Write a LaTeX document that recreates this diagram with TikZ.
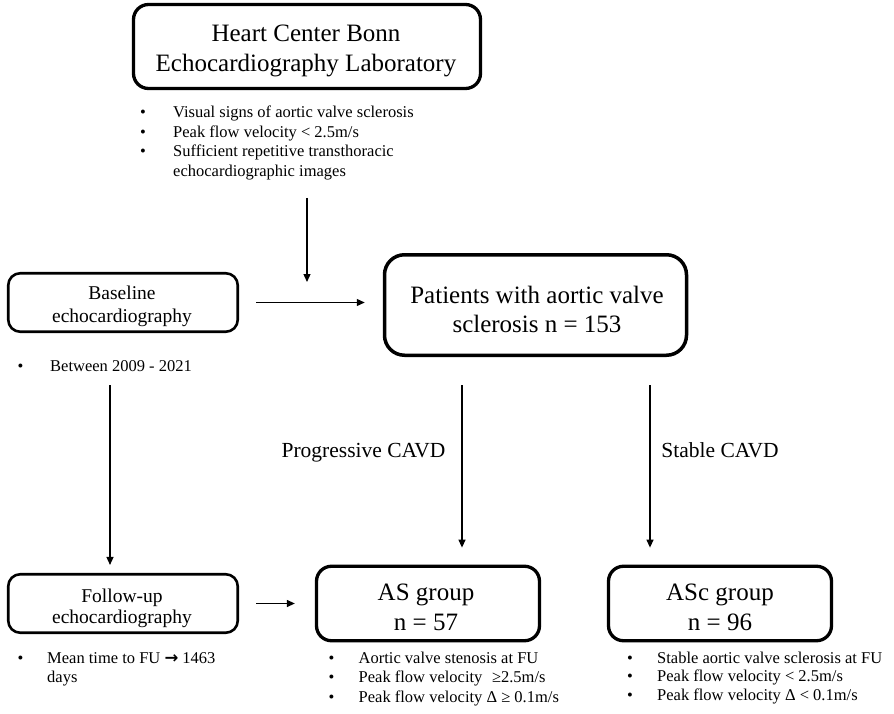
\documentclass[tikz,border=0pt]{standalone}
\usepackage{fontspec}
\setmainfont{Liberation Serif}
\newfontfamily\symfont{DejaVu Sans}
\usetikzlibrary{arrows.meta}
\tikzset{
  boxthick/.style={draw, rounded corners=15pt, line width=3.3pt, inner sep=0pt},
  boxthin/.style={draw, rounded corners=12pt, line width=2.6pt, inner sep=0pt},
  bigtxt/.style={font=\fontsize{25}{30}\selectfont, inner sep=0pt, anchor=base},
  midtxt/.style={font=\fontsize{19.5}{23}\selectfont, inner sep=0pt, anchor=base},
  lbltxt/.style={font=\fontsize{21.5}{26}\selectfont, inner sep=0pt, anchor=base},
  bultxt/.style={font=\fontsize{16.5}{19.5}\selectfont, inner sep=0pt, anchor=base west},
  buldot/.style={font=\fontsize{16.5}{19.5}\selectfont, inner sep=0pt, anchor=base},
  arr/.style={-{Triangle[length=8pt,width=7pt]}, line width=1.3pt},
}
\newcommand\bitem[5]{%
  \node[buldot] (#1b) at (#2,#4) {•};
  \node[bultxt] (#1) at (#3,#4) {#5};}
\begin{document}
\begin{tikzpicture}[x=1pt,y=-1pt]
\useasboundingbox (0,0) rectangle (894,714);

% boxes
\node[boxthick, minimum width=347pt, minimum height=84pt] (top) at (307,46.5) {};
\node[boxthin, minimum width=229.5pt, minimum height=58.5pt] (base) at (123,302.5) {};
\node[boxthick, rounded corners=20pt, line width=3.5pt, minimum width=302pt, minimum height=100.5pt] (pat) at (535.5,305) {};
\node[boxthin, minimum width=229.5pt, minimum height=58.5pt] (fu) at (123,603.5) {};
\node[boxthick, minimum width=223pt, minimum height=74.5pt] (as) at (428,603.5) {};
\node[boxthick, minimum width=223pt, minimum height=74.5pt] (asc) at (720,603.5) {};

% box texts
\node[bigtxt] (topt1) at (306,42) {Heart Center Bonn};
\node[bigtxt] (topt2) at (306,72) {Echocardiography Laboratory};
\node[bigtxt] (patt1) at (537,303) {Patients with aortic valve};
\node[bigtxt] (patt2) at (537,332) {sclerosis n = 153};
\node[midtxt] (baset1) at (122,299) {Baseline};
\node[midtxt] (baset2) at (122,322) {echocardiography};
\node[midtxt] (fut1) at (122,602) {Follow-up};
\node[midtxt] (fut2) at (122,623) {echocardiography};
\node[bigtxt] (ast1) at (426,600) {AS group};
\node[bigtxt] (ast2) at (426,630) {n = 57};
\node[bigtxt] (asct1) at (720,600) {ASc group};
\node[bigtxt] (asct2) at (720,630) {n = 96};

% labels
\node[lbltxt] (lprog) at (363.5,457) {Progressive CAVD};
\node[lbltxt] (lstab) at (720,457) {Stable CAVD};

% bullet lists
\bitem{tl1}{143}{173}{118}{Visual signs of aortic valve sclerosis}
\bitem{tl2}{143}{173}{137.5}{Peak flow velocity < 2.5m/s}
\bitem{tl3}{143}{173}{157}{Sufficient repetitive transthoracic}
\node[bultxt] (tl4) at (173,176.5) {echocardiographic images};

\bitem{bl1}{20.5}{50}{371}{Between 2009 - 2021}

\bitem{fl1}{20.5}{47}{663}{Mean time to FU {\symfont\bfseries →} 1463}
\node[bultxt] (fl2) at (47,682) {days};

\bitem{al1}{331.5}{358.5}{663}{Aortic valve stenosis at FU}
\bitem{al2}{331.5}{358.5}{682.5}{Peak flow velocity \,\,≥2.5m/s}
\bitem{al3}{331.5}{358.5}{702}{Peak flow velocity Δ ≥ 0.1m/s}

\bitem{cl1}{630}{657}{663}{Stable aortic valve sclerosis at FU}
\bitem{cl2}{630}{657}{681.5}{Peak flow velocity < 2.5m/s}
\bitem{cl3}{630}{657}{700}{Peak flow velocity Δ < 0.1m/s}

% connector coordinates
\coordinate (t1) at (307,198);
\coordinate (t2) at (307,282);
\coordinate (xprog) at (462,0);
\coordinate (xstab) at (650,0);
\coordinate (xleft) at (110,0);

% connectors
\draw[arr] (t1) -- (t2);
\draw[arr, shorten <=17pt, shorten >=18pt] (base.east) -- (base.east -| pat.west);
\draw[arr, shorten <=28pt, shorten >=17pt] (pat.south -| xprog) -- (as.north -| xprog);
\draw[arr, shorten <=28pt, shorten >=17pt] (pat.south -| xstab) -- (asc.north -| xstab);
\draw[arr, shorten <=52pt, shorten >=8pt] (base.south -| xleft) -- (fu.north -| xleft);
\draw[arr, shorten <=17pt, shorten >=20pt] (fu.east) -- (fu.east -| as.west);
\end{tikzpicture}
\end{document}
